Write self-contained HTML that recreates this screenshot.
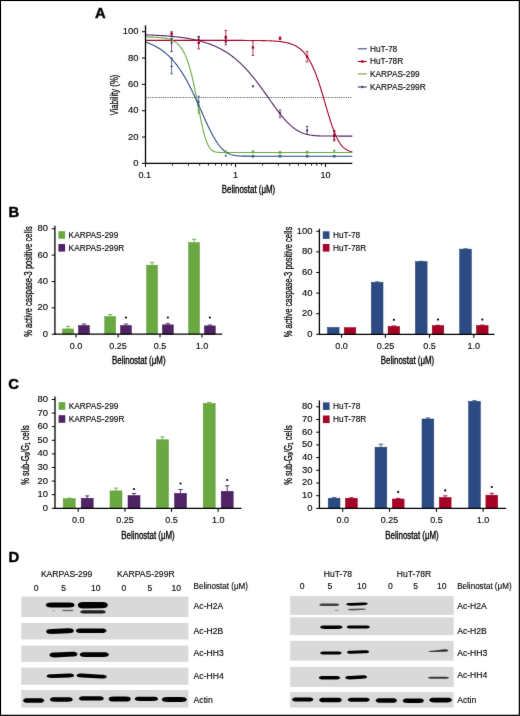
<!DOCTYPE html>
<html><head><meta charset="utf-8"><title>Figure</title>
<style>
html,body{margin:0;padding:0;background:#fff;}
body{width:520px;height:716px;overflow:hidden;position:relative;}
svg{position:absolute;left:0;top:0;display:block;}
text{font-family:"Liberation Sans", sans-serif;}
</style></head>
<body>
<svg width="520" height="716" viewBox="0 0 520 716">
<defs><filter id="bl" x="-10%" y="-60%" width="120%" height="220%"><feGaussianBlur stdDeviation="0.45"/></filter>
<filter id="soft" x="0" y="0" width="520" height="716" filterUnits="userSpaceOnUse" color-interpolation-filters="sRGB"><feConvolveMatrix order="3" kernelMatrix="0.0052 0.0619 0.0052 0.0619 0.7314 0.0619 0.0052 0.0619 0.0052" edgeMode="duplicate" preserveAlpha="true"/></filter></defs>
<g filter="url(#soft)">
<rect x="0" y="0" width="520" height="716" fill="#fff"/>
<text transform="translate(94.90,18.40) scale(0.96,1)" font-size="15.4" text-anchor="start" font-weight="bold" fill="#000" stroke="#000" stroke-width="0.45" >A</text>
<line x1="145.50" y1="97.50" x2="351.50" y2="97.50" stroke="#444" stroke-width="0.9" stroke-dasharray="1.1,1.1"/>
<polyline points="145.50,34.84 146.36,34.87 147.22,34.90 148.09,34.93 148.95,34.96 149.81,35.00 150.67,35.03 151.53,35.07 152.39,35.11 153.25,35.15 154.12,35.19 154.98,35.23 155.84,35.27 156.70,35.32 157.56,35.36 158.43,35.41 159.29,35.46 160.15,35.51 161.01,35.56 161.87,35.62 162.73,35.67 163.59,35.73 164.46,35.79 165.32,35.85 166.18,35.92 167.04,35.98 167.90,36.05 168.76,36.12 169.63,36.20 170.49,36.27 171.35,36.35 172.21,36.43 173.07,36.51 173.94,36.60 174.80,36.69 175.66,36.78 176.52,36.87 177.38,36.97 178.24,37.07 179.11,37.17 179.97,37.28 180.83,37.39 181.69,37.50 182.55,37.62 183.41,37.74 184.28,37.87 185.14,38.00 186.00,38.13 186.86,38.27 187.72,38.41 188.58,38.56 189.44,38.71 190.31,38.87 191.17,39.03 192.03,39.20 192.89,39.37 193.75,39.55 194.62,39.73 195.48,39.92 196.34,40.12 197.20,40.32 198.06,40.53 198.92,40.74 199.78,40.96 200.65,41.19 201.51,41.42 202.37,41.67 203.23,41.92 204.09,42.17 204.96,42.44 205.82,42.71 206.68,42.99 207.54,43.28 208.40,43.58 209.26,43.89 210.12,44.21 210.99,44.54 211.85,44.87 212.71,45.22 213.57,45.58 214.43,45.94 215.30,46.32 216.16,46.71 217.02,47.11 217.88,47.52 218.74,47.95 219.60,48.38 220.47,48.83 221.33,49.29 222.19,49.77 223.05,50.25 223.91,50.75 224.77,51.27 225.63,51.80 226.50,52.34 227.36,52.89 228.22,53.47 229.08,54.05 229.94,54.65 230.81,55.27 231.67,55.90 232.53,56.55 233.39,57.22 234.25,57.90 235.11,58.60 235.97,59.31 236.84,60.05 237.70,60.79 238.56,61.56 239.42,62.34 240.28,63.14 241.15,63.96 242.01,64.80 242.87,65.65 243.73,66.52 244.59,67.41 245.45,68.32 246.31,69.24 247.18,70.19 248.04,71.14 248.90,72.12 249.76,73.11 250.62,74.12 251.49,75.15 252.35,76.19 253.21,77.25 254.07,78.33 254.93,79.41 255.79,80.52 256.65,81.63 257.52,82.76 258.38,83.91 259.24,85.06 260.10,86.23 260.96,87.40 261.82,88.59 262.69,89.78 263.55,90.99 264.41,92.19 265.27,93.41 266.13,94.63 267.00,95.85 267.86,97.07 268.72,98.30 269.58,99.52 270.44,100.75 271.30,101.97 272.17,103.18 273.03,104.39 273.89,105.59 274.75,106.79 275.61,107.97 276.47,109.14 277.34,110.30 278.20,111.44 279.06,112.56 279.92,113.67 280.78,114.76 281.64,115.83 282.50,116.87 283.37,117.90 284.23,118.90 285.09,119.87 285.95,120.81 286.81,121.73 287.68,122.62 288.54,123.48 289.40,124.31 290.26,125.11 291.12,125.87 291.98,126.61 292.85,127.31 293.71,127.98 294.57,128.61 295.43,129.22 296.29,129.79 297.15,130.33 298.01,130.83 298.88,131.31 299.74,131.75 300.60,132.17 301.46,132.55 302.32,132.91 303.19,133.24 304.05,133.55 304.91,133.83 305.77,134.08 306.63,134.31 307.49,134.53 308.36,134.72 309.22,134.89 310.08,135.04 310.94,135.18 311.80,135.30 312.66,135.41 313.52,135.51 314.39,135.59 315.25,135.67 316.11,135.73 316.97,135.78 317.83,135.83 318.70,135.87 319.56,135.91 320.42,135.94 321.28,135.96 322.14,135.98 323.00,136.00 323.87,136.02 324.73,136.03 325.59,136.04 326.45,136.04 327.31,136.05 328.17,136.06 329.03,136.06 329.90,136.06 330.76,136.07 331.62,136.07 332.48,136.07 333.34,136.07 334.21,136.07 335.07,136.07 335.93,136.07 336.79,136.07 337.65,136.07 338.51,136.07 339.38,136.08 340.24,136.08 341.10,136.08 341.96,136.08 342.82,136.08 343.68,136.08 344.55,136.08 345.41,136.08 346.27,136.08 347.13,136.08 347.99,136.08 348.85,136.08 349.72,136.08 350.58,136.08 351.44,136.08 352.30,136.08" fill="none" stroke="#502364" stroke-width="1.1"/>
<polyline points="145.50,40.39 146.36,40.39 147.22,40.39 148.09,40.39 148.95,40.39 149.81,40.39 150.67,40.39 151.53,40.39 152.39,40.39 153.25,40.39 154.12,40.39 154.98,40.39 155.84,40.39 156.70,40.39 157.56,40.39 158.43,40.39 159.29,40.39 160.15,40.39 161.01,40.39 161.87,40.39 162.73,40.39 163.59,40.39 164.46,40.39 165.32,40.39 166.18,40.39 167.04,40.39 167.90,40.39 168.76,40.39 169.63,40.39 170.49,40.39 171.35,40.39 172.21,40.39 173.07,40.39 173.94,40.39 174.80,40.39 175.66,40.39 176.52,40.39 177.38,40.39 178.24,40.39 179.11,40.39 179.97,40.39 180.83,40.39 181.69,40.39 182.55,40.39 183.41,40.39 184.28,40.39 185.14,40.39 186.00,40.39 186.86,40.39 187.72,40.39 188.58,40.39 189.44,40.39 190.31,40.39 191.17,40.39 192.03,40.39 192.89,40.39 193.75,40.39 194.62,40.39 195.48,40.39 196.34,40.39 197.20,40.39 198.06,40.39 198.92,40.39 199.78,40.39 200.65,40.39 201.51,40.39 202.37,40.39 203.23,40.39 204.09,40.39 204.96,40.39 205.82,40.39 206.68,40.39 207.54,40.39 208.40,40.39 209.26,40.39 210.12,40.39 210.99,40.39 211.85,40.39 212.71,40.39 213.57,40.39 214.43,40.39 215.30,40.39 216.16,40.39 217.02,40.39 217.88,40.39 218.74,40.39 219.60,40.39 220.47,40.40 221.33,40.40 222.19,40.40 223.05,40.40 223.91,40.40 224.77,40.40 225.63,40.40 226.50,40.40 227.36,40.40 228.22,40.40 229.08,40.40 229.94,40.40 230.81,40.40 231.67,40.40 232.53,40.40 233.39,40.40 234.25,40.40 235.11,40.41 235.97,40.41 236.84,40.41 237.70,40.41 238.56,40.41 239.42,40.41 240.28,40.41 241.15,40.42 242.01,40.42 242.87,40.42 243.73,40.42 244.59,40.43 245.45,40.43 246.31,40.43 247.18,40.44 248.04,40.44 248.90,40.44 249.76,40.45 250.62,40.45 251.49,40.46 252.35,40.47 253.21,40.47 254.07,40.48 254.93,40.49 255.79,40.50 256.65,40.51 257.52,40.52 258.38,40.53 259.24,40.54 260.10,40.55 260.96,40.57 261.82,40.58 262.69,40.60 263.55,40.62 264.41,40.64 265.27,40.66 266.13,40.69 267.00,40.72 267.86,40.74 268.72,40.78 269.58,40.81 270.44,40.85 271.30,40.89 272.17,40.93 273.03,40.98 273.89,41.04 274.75,41.09 275.61,41.16 276.47,41.23 277.34,41.30 278.20,41.38 279.06,41.47 279.92,41.57 280.78,41.67 281.64,41.79 282.50,41.91 283.37,42.05 284.23,42.20 285.09,42.36 285.95,42.53 286.81,42.72 287.68,42.93 288.54,43.15 289.40,43.40 290.26,43.66 291.12,43.95 291.98,44.26 292.85,44.60 293.71,44.97 294.57,45.37 295.43,45.81 296.29,46.28 297.15,46.79 298.01,47.34 298.88,47.93 299.74,48.58 300.60,49.27 301.46,50.03 302.32,50.84 303.19,51.71 304.05,52.65 304.91,53.66 305.77,54.75 306.63,55.91 307.49,57.16 308.36,58.49 309.22,59.92 310.08,61.43 310.94,63.05 311.80,64.76 312.66,66.58 313.52,68.50 314.39,70.53 315.25,72.66 316.11,74.89 316.97,77.22 317.83,79.66 318.70,82.18 319.56,84.80 320.42,87.50 321.28,90.27 322.14,93.10 323.00,95.99 323.87,98.91 324.73,101.86 325.59,104.82 326.45,107.78 327.31,110.72 328.17,113.62 329.03,116.46 329.90,119.25 330.76,121.94 331.62,124.55 332.48,127.04 333.34,129.42 334.21,131.68 335.07,133.80 335.93,135.78 336.79,137.63 337.65,139.33 338.51,140.90 339.38,142.32 340.24,143.62 341.10,144.79 341.96,145.84 342.82,146.78 343.68,147.61 344.55,148.35 345.41,148.99 346.27,149.56 347.13,150.06 347.99,150.48 348.85,150.85 349.72,151.17 350.58,151.45 351.44,151.68 352.30,151.88" fill="none" stroke="#a60226" stroke-width="1.1"/>
<polyline points="145.50,37.03 146.36,37.04 147.22,37.05 148.09,37.07 148.95,37.08 149.81,37.10 150.67,37.12 151.53,37.14 152.39,37.17 153.25,37.20 154.12,37.23 154.98,37.26 155.84,37.30 156.70,37.35 157.56,37.40 158.43,37.46 159.29,37.52 160.15,37.59 161.01,37.68 161.87,37.77 162.73,37.87 163.59,37.98 164.46,38.11 165.32,38.26 166.18,38.42 167.04,38.60 167.90,38.81 168.76,39.04 169.63,39.30 170.49,39.59 171.35,39.92 172.21,40.28 173.07,40.69 173.94,41.15 174.80,41.66 175.66,42.23 176.52,42.87 177.38,43.59 178.24,44.38 179.11,45.27 179.97,46.26 180.83,47.35 181.69,48.57 182.55,49.92 183.41,51.41 184.28,53.06 185.14,54.87 186.00,56.86 186.86,59.03 187.72,61.41 188.58,63.99 189.44,66.79 190.31,69.81 191.17,73.05 192.03,76.51 192.89,80.18 193.75,84.04 194.62,88.09 195.48,92.29 196.34,96.62 197.20,101.04 198.06,105.50 198.92,109.96 199.78,114.36 200.65,118.66 201.51,122.80 202.37,126.72 203.23,130.40 204.09,133.79 204.96,136.87 205.82,139.61 206.68,142.02 207.54,144.09 208.40,145.85 209.26,147.32 210.12,148.52 210.99,149.48 211.85,150.24 212.71,150.84 213.57,151.29 214.43,151.63 215.30,151.88 216.16,152.07 217.02,152.20 217.88,152.30 218.74,152.36 219.60,152.41 220.47,152.44 221.33,152.46 222.19,152.48 223.05,152.49 223.91,152.49 224.77,152.50 225.63,152.50 226.50,152.50 227.36,152.50 228.22,152.50 229.08,152.51 229.94,152.51 230.81,152.51 231.67,152.51 232.53,152.51 233.39,152.51 234.25,152.51 235.11,152.51 235.97,152.51 236.84,152.51 237.70,152.51 238.56,152.51 239.42,152.51 240.28,152.51 241.15,152.51 242.01,152.51 242.87,152.51 243.73,152.51 244.59,152.51 245.45,152.51 246.31,152.51 247.18,152.51 248.04,152.51 248.90,152.51 249.76,152.51 250.62,152.51 251.49,152.51 252.35,152.51 253.21,152.51 254.07,152.51 254.93,152.51 255.79,152.51 256.65,152.51 257.52,152.51 258.38,152.51 259.24,152.51 260.10,152.51 260.96,152.51 261.82,152.51 262.69,152.51 263.55,152.51 264.41,152.51 265.27,152.51 266.13,152.51 267.00,152.51 267.86,152.51 268.72,152.51 269.58,152.51 270.44,152.51 271.30,152.51 272.17,152.51 273.03,152.51 273.89,152.51 274.75,152.51 275.61,152.51 276.47,152.51 277.34,152.51 278.20,152.51 279.06,152.51 279.92,152.51 280.78,152.51 281.64,152.51 282.50,152.51 283.37,152.51 284.23,152.51 285.09,152.51 285.95,152.51 286.81,152.51 287.68,152.51 288.54,152.51 289.40,152.51 290.26,152.51 291.12,152.51 291.98,152.51 292.85,152.51 293.71,152.51 294.57,152.51 295.43,152.51 296.29,152.51 297.15,152.51 298.01,152.51 298.88,152.51 299.74,152.51 300.60,152.51 301.46,152.51 302.32,152.51 303.19,152.51 304.05,152.51 304.91,152.51 305.77,152.51 306.63,152.51 307.49,152.51 308.36,152.51 309.22,152.51 310.08,152.51 310.94,152.51 311.80,152.51 312.66,152.51 313.52,152.51 314.39,152.51 315.25,152.51 316.11,152.51 316.97,152.51 317.83,152.51 318.70,152.51 319.56,152.51 320.42,152.51 321.28,152.51 322.14,152.51 323.00,152.51 323.87,152.51 324.73,152.51 325.59,152.51 326.45,152.51 327.31,152.51 328.17,152.51 329.03,152.51 329.90,152.51 330.76,152.51 331.62,152.51 332.48,152.51 333.34,152.51 334.21,152.51 335.07,152.51 335.93,152.51 336.79,152.51 337.65,152.51 338.51,152.51 339.38,152.51 340.24,152.51 341.10,152.51 341.96,152.51 342.82,152.51 343.68,152.51 344.55,152.51 345.41,152.51 346.27,152.51 347.13,152.51 347.99,152.51 348.85,152.51 349.72,152.51 350.58,152.51 351.44,152.51 352.30,152.51" fill="none" stroke="#6aa842" stroke-width="1.1"/>
<polyline points="145.50,42.08 146.36,42.37 147.22,42.68 148.09,42.99 148.95,43.32 149.81,43.66 150.67,44.02 151.53,44.39 152.39,44.78 153.25,45.18 154.12,45.60 154.98,46.04 155.84,46.50 156.70,46.97 157.56,47.46 158.43,47.98 159.29,48.51 160.15,49.07 161.01,49.65 161.87,50.25 162.73,50.87 163.59,51.52 164.46,52.20 165.32,52.90 166.18,53.62 167.04,54.38 167.90,55.16 168.76,55.97 169.63,56.81 170.49,57.68 171.35,58.59 172.21,59.52 173.07,60.49 173.94,61.49 174.80,62.52 175.66,63.59 176.52,64.70 177.38,65.84 178.24,67.02 179.11,68.23 179.97,69.48 180.83,70.77 181.69,72.09 182.55,73.45 183.41,74.85 184.28,76.29 185.14,77.77 186.00,79.28 186.86,80.83 187.72,82.41 188.58,84.03 189.44,85.69 190.31,87.38 191.17,89.10 192.03,90.85 192.89,92.63 193.75,94.44 194.62,96.27 195.48,98.13 196.34,100.01 197.20,101.91 198.06,103.82 198.92,105.74 199.78,107.68 200.65,109.62 201.51,111.56 202.37,113.51 203.23,115.44 204.09,117.37 204.96,119.29 205.82,121.19 206.68,123.07 207.54,124.92 208.40,126.74 209.26,128.53 210.12,130.28 210.99,131.99 211.85,133.65 212.71,135.26 213.57,136.82 214.43,138.32 215.30,139.76 216.16,141.14 217.02,142.45 217.88,143.70 218.74,144.88 219.60,145.99 220.47,147.03 221.33,148.01 222.19,148.91 223.05,149.74 223.91,150.51 224.77,151.21 225.63,151.85 226.50,152.43 227.36,152.94 228.22,153.41 229.08,153.82 229.94,154.18 230.81,154.50 231.67,154.78 232.53,155.02 233.39,155.23 234.25,155.40 235.11,155.55 235.97,155.67 236.84,155.77 237.70,155.86 238.56,155.93 239.42,155.98 240.28,156.03 241.15,156.06 242.01,156.09 242.87,156.11 243.73,156.13 244.59,156.14 245.45,156.15 246.31,156.16 247.18,156.17 248.04,156.17 248.90,156.17 249.76,156.17 250.62,156.18 251.49,156.18 252.35,156.18 253.21,156.18 254.07,156.18 254.93,156.18 255.79,156.18 256.65,156.18 257.52,156.18 258.38,156.18 259.24,156.18 260.10,156.18 260.96,156.18 261.82,156.18 262.69,156.18 263.55,156.18 264.41,156.18 265.27,156.18 266.13,156.18 267.00,156.18 267.86,156.18 268.72,156.18 269.58,156.18 270.44,156.18 271.30,156.18 272.17,156.18 273.03,156.18 273.89,156.18 274.75,156.18 275.61,156.18 276.47,156.18 277.34,156.18 278.20,156.18 279.06,156.18 279.92,156.18 280.78,156.18 281.64,156.18 282.50,156.18 283.37,156.18 284.23,156.18 285.09,156.18 285.95,156.18 286.81,156.18 287.68,156.18 288.54,156.18 289.40,156.18 290.26,156.18 291.12,156.18 291.98,156.18 292.85,156.18 293.71,156.18 294.57,156.18 295.43,156.18 296.29,156.18 297.15,156.18 298.01,156.18 298.88,156.18 299.74,156.18 300.60,156.18 301.46,156.18 302.32,156.18 303.19,156.18 304.05,156.18 304.91,156.18 305.77,156.18 306.63,156.18 307.49,156.18 308.36,156.18 309.22,156.18 310.08,156.18 310.94,156.18 311.80,156.18 312.66,156.18 313.52,156.18 314.39,156.18 315.25,156.18 316.11,156.18 316.97,156.18 317.83,156.18 318.70,156.18 319.56,156.18 320.42,156.18 321.28,156.18 322.14,156.18 323.00,156.18 323.87,156.18 324.73,156.18 325.59,156.18 326.45,156.18 327.31,156.18 328.17,156.18 329.03,156.18 329.90,156.18 330.76,156.18 331.62,156.18 332.48,156.18 333.34,156.18 334.21,156.18 335.07,156.18 335.93,156.18 336.79,156.18 337.65,156.18 338.51,156.18 339.38,156.18 340.24,156.18 341.10,156.18 341.96,156.18 342.82,156.18 343.68,156.18 344.55,156.18 345.41,156.18 346.27,156.18 347.13,156.18 347.99,156.18 348.85,156.18 349.72,156.18 350.58,156.18 351.44,156.18 352.30,156.18" fill="none" stroke="#2d4b83" stroke-width="1.1"/>
<line x1="171.60" y1="58.04" x2="171.60" y2="73.84" stroke="#2d4b83" stroke-width="0.8" />
<line x1="170.30" y1="58.04" x2="172.90" y2="58.04" stroke="#2d4b83" stroke-width="0.8" />
<line x1="170.30" y1="73.84" x2="172.90" y2="73.84" stroke="#2d4b83" stroke-width="0.8" />
<path d="M170.20,67.04 L173.00,67.04 L171.60,64.64Z" fill="#2d4b83"/>
<line x1="198.70" y1="96.23" x2="198.70" y2="105.45" stroke="#2d4b83" stroke-width="0.8" />
<line x1="197.40" y1="96.23" x2="200.00" y2="96.23" stroke="#2d4b83" stroke-width="0.8" />
<line x1="197.40" y1="105.45" x2="200.00" y2="105.45" stroke="#2d4b83" stroke-width="0.8" />
<path d="M197.30,102.60 L200.10,102.60 L198.70,100.20Z" fill="#2d4b83"/>
<path d="M224.39,156.60 L227.19,156.60 L225.79,154.20Z" fill="#2d4b83"/>
<line x1="252.94" y1="155.50" x2="252.94" y2="156.81" stroke="#2d4b83" stroke-width="0.8" />
<line x1="251.64" y1="155.50" x2="254.24" y2="155.50" stroke="#2d4b83" stroke-width="0.8" />
<line x1="251.64" y1="156.81" x2="254.24" y2="156.81" stroke="#2d4b83" stroke-width="0.8" />
<path d="M251.54,157.26 L254.34,157.26 L252.94,154.86Z" fill="#2d4b83"/>
<line x1="280.04" y1="155.50" x2="280.04" y2="156.81" stroke="#2d4b83" stroke-width="0.8" />
<line x1="278.74" y1="155.50" x2="281.34" y2="155.50" stroke="#2d4b83" stroke-width="0.8" />
<line x1="278.74" y1="156.81" x2="281.34" y2="156.81" stroke="#2d4b83" stroke-width="0.8" />
<path d="M278.64,157.26 L281.44,157.26 L280.04,154.86Z" fill="#2d4b83"/>
<line x1="307.13" y1="155.50" x2="307.13" y2="156.81" stroke="#2d4b83" stroke-width="0.8" />
<line x1="305.83" y1="155.50" x2="308.43" y2="155.50" stroke="#2d4b83" stroke-width="0.8" />
<line x1="305.83" y1="156.81" x2="308.43" y2="156.81" stroke="#2d4b83" stroke-width="0.8" />
<path d="M305.73,157.26 L308.53,157.26 L307.13,154.86Z" fill="#2d4b83"/>
<line x1="334.22" y1="155.50" x2="334.22" y2="156.81" stroke="#2d4b83" stroke-width="0.8" />
<line x1="332.92" y1="155.50" x2="335.52" y2="155.50" stroke="#2d4b83" stroke-width="0.8" />
<line x1="332.92" y1="156.81" x2="335.52" y2="156.81" stroke="#2d4b83" stroke-width="0.8" />
<path d="M332.82,157.26 L335.62,157.26 L334.22,154.86Z" fill="#2d4b83"/>
<line x1="171.60" y1="38.29" x2="171.60" y2="40.92" stroke="#6aa842" stroke-width="0.8" />
<line x1="170.30" y1="38.29" x2="172.90" y2="38.29" stroke="#6aa842" stroke-width="0.8" />
<line x1="170.30" y1="40.92" x2="172.90" y2="40.92" stroke="#6aa842" stroke-width="0.8" />
<path d="M170.20,38.50 L173.00,38.50 L171.60,40.90Z" fill="#6aa842"/>
<line x1="198.70" y1="106.77" x2="198.70" y2="113.35" stroke="#6aa842" stroke-width="0.8" />
<line x1="197.40" y1="106.77" x2="200.00" y2="106.77" stroke="#6aa842" stroke-width="0.8" />
<line x1="197.40" y1="113.35" x2="200.00" y2="113.35" stroke="#6aa842" stroke-width="0.8" />
<path d="M197.30,109.62 L200.10,109.62 L198.70,112.02Z" fill="#6aa842"/>
<line x1="225.79" y1="150.89" x2="225.79" y2="152.86" stroke="#6aa842" stroke-width="0.8" />
<line x1="224.49" y1="150.89" x2="227.09" y2="150.89" stroke="#6aa842" stroke-width="0.8" />
<line x1="224.49" y1="152.86" x2="227.09" y2="152.86" stroke="#6aa842" stroke-width="0.8" />
<path d="M224.39,150.84 L227.19,150.84 L225.79,153.24Z" fill="#6aa842"/>
<line x1="252.94" y1="150.89" x2="252.94" y2="152.86" stroke="#6aa842" stroke-width="0.8" />
<line x1="251.64" y1="150.89" x2="254.24" y2="150.89" stroke="#6aa842" stroke-width="0.8" />
<line x1="251.64" y1="152.86" x2="254.24" y2="152.86" stroke="#6aa842" stroke-width="0.8" />
<path d="M251.54,151.11 L254.34,151.11 L252.94,153.51Z" fill="#6aa842"/>
<line x1="280.04" y1="151.55" x2="280.04" y2="153.52" stroke="#6aa842" stroke-width="0.8" />
<line x1="278.74" y1="151.55" x2="281.34" y2="151.55" stroke="#6aa842" stroke-width="0.8" />
<line x1="278.74" y1="153.52" x2="281.34" y2="153.52" stroke="#6aa842" stroke-width="0.8" />
<path d="M278.64,151.76 L281.44,151.76 L280.04,154.16Z" fill="#6aa842"/>
<line x1="307.13" y1="151.28" x2="307.13" y2="153.13" stroke="#6aa842" stroke-width="0.8" />
<line x1="305.83" y1="151.28" x2="308.43" y2="151.28" stroke="#6aa842" stroke-width="0.8" />
<line x1="305.83" y1="153.13" x2="308.43" y2="153.13" stroke="#6aa842" stroke-width="0.8" />
<path d="M305.73,151.37 L308.53,151.37 L307.13,153.77Z" fill="#6aa842"/>
<line x1="334.22" y1="150.23" x2="334.22" y2="152.21" stroke="#6aa842" stroke-width="0.8" />
<line x1="332.92" y1="150.23" x2="335.52" y2="150.23" stroke="#6aa842" stroke-width="0.8" />
<line x1="332.92" y1="152.21" x2="335.52" y2="152.21" stroke="#6aa842" stroke-width="0.8" />
<path d="M332.82,150.45 L335.62,150.45 L334.22,152.85Z" fill="#6aa842"/>
<line x1="171.60" y1="38.29" x2="171.60" y2="51.46" stroke="#502364" stroke-width="0.8" />
<line x1="170.30" y1="38.29" x2="172.90" y2="38.29" stroke="#502364" stroke-width="0.8" />
<line x1="170.30" y1="51.46" x2="172.90" y2="51.46" stroke="#502364" stroke-width="0.8" />
<path d="M171.60,41.39 L172.90,42.89 L171.60,44.39 L170.30,42.89Z" fill="#502364"/>
<line x1="198.70" y1="36.44" x2="198.70" y2="39.60" stroke="#502364" stroke-width="0.8" />
<line x1="197.40" y1="36.44" x2="200.00" y2="36.44" stroke="#502364" stroke-width="0.8" />
<line x1="197.40" y1="39.60" x2="200.00" y2="39.60" stroke="#502364" stroke-width="0.8" />
<path d="M198.70,35.86 L200.00,37.36 L198.70,38.86 L197.40,37.36Z" fill="#502364"/>
<line x1="225.79" y1="38.29" x2="225.79" y2="44.87" stroke="#502364" stroke-width="0.8" />
<line x1="224.49" y1="38.29" x2="227.09" y2="38.29" stroke="#502364" stroke-width="0.8" />
<line x1="224.49" y1="44.87" x2="227.09" y2="44.87" stroke="#502364" stroke-width="0.8" />
<path d="M225.79,39.42 L227.09,40.92 L225.79,42.42 L224.49,40.92Z" fill="#502364"/>
<path d="M252.94,84.86 L254.24,86.36 L252.94,87.86 L251.64,86.36Z" fill="#502364"/>
<line x1="280.04" y1="110.06" x2="280.04" y2="117.31" stroke="#502364" stroke-width="0.8" />
<line x1="278.74" y1="110.06" x2="281.34" y2="110.06" stroke="#502364" stroke-width="0.8" />
<line x1="278.74" y1="117.31" x2="281.34" y2="117.31" stroke="#502364" stroke-width="0.8" />
<path d="M280.04,111.85 L281.34,113.35 L280.04,114.85 L278.74,113.35Z" fill="#502364"/>
<line x1="307.13" y1="126.52" x2="307.13" y2="134.43" stroke="#502364" stroke-width="0.8" />
<line x1="305.83" y1="126.52" x2="308.43" y2="126.52" stroke="#502364" stroke-width="0.8" />
<line x1="305.83" y1="134.43" x2="308.43" y2="134.43" stroke="#502364" stroke-width="0.8" />
<path d="M307.13,128.98 L308.43,130.48 L307.13,131.98 L305.83,130.48Z" fill="#502364"/>
<line x1="334.22" y1="131.79" x2="334.22" y2="139.69" stroke="#502364" stroke-width="0.8" />
<line x1="332.92" y1="131.79" x2="335.52" y2="131.79" stroke="#502364" stroke-width="0.8" />
<line x1="332.92" y1="139.69" x2="335.52" y2="139.69" stroke="#502364" stroke-width="0.8" />
<path d="M334.22,134.24 L335.52,135.74 L334.22,137.24 L332.92,135.74Z" fill="#502364"/>
<line x1="171.60" y1="31.70" x2="171.60" y2="35.65" stroke="#a60226" stroke-width="0.8" />
<line x1="170.30" y1="31.70" x2="172.90" y2="31.70" stroke="#a60226" stroke-width="0.8" />
<line x1="170.30" y1="35.65" x2="172.90" y2="35.65" stroke="#a60226" stroke-width="0.8" />
<rect x="170.40" y="32.48" width="2.40" height="2.40" fill="#a60226"/>
<line x1="198.70" y1="39.60" x2="198.70" y2="48.82" stroke="#a60226" stroke-width="0.8" />
<line x1="197.40" y1="39.60" x2="200.00" y2="39.60" stroke="#a60226" stroke-width="0.8" />
<line x1="197.40" y1="48.82" x2="200.00" y2="48.82" stroke="#a60226" stroke-width="0.8" />
<rect x="197.50" y="41.69" width="2.40" height="2.40" fill="#a60226"/>
<line x1="225.79" y1="30.38" x2="225.79" y2="42.24" stroke="#a60226" stroke-width="0.8" />
<line x1="224.49" y1="30.38" x2="227.09" y2="30.38" stroke="#a60226" stroke-width="0.8" />
<line x1="224.49" y1="42.24" x2="227.09" y2="42.24" stroke="#a60226" stroke-width="0.8" />
<rect x="224.59" y="35.77" width="2.40" height="2.40" fill="#a60226"/>
<line x1="252.94" y1="40.92" x2="252.94" y2="55.41" stroke="#a60226" stroke-width="0.8" />
<line x1="251.64" y1="40.92" x2="254.24" y2="40.92" stroke="#a60226" stroke-width="0.8" />
<line x1="251.64" y1="55.41" x2="254.24" y2="55.41" stroke="#a60226" stroke-width="0.8" />
<rect x="251.74" y="46.30" width="2.40" height="2.40" fill="#a60226"/>
<line x1="280.04" y1="36.97" x2="280.04" y2="39.60" stroke="#a60226" stroke-width="0.8" />
<line x1="278.74" y1="36.97" x2="281.34" y2="36.97" stroke="#a60226" stroke-width="0.8" />
<line x1="278.74" y1="39.60" x2="281.34" y2="39.60" stroke="#a60226" stroke-width="0.8" />
<rect x="278.84" y="37.09" width="2.40" height="2.40" fill="#a60226"/>
<line x1="307.13" y1="51.46" x2="307.13" y2="61.99" stroke="#a60226" stroke-width="0.8" />
<line x1="305.83" y1="51.46" x2="308.43" y2="51.46" stroke="#a60226" stroke-width="0.8" />
<line x1="305.83" y1="61.99" x2="308.43" y2="61.99" stroke="#a60226" stroke-width="0.8" />
<rect x="305.93" y="55.52" width="2.40" height="2.40" fill="#a60226"/>
<line x1="334.22" y1="130.48" x2="334.22" y2="141.01" stroke="#a60226" stroke-width="0.8" />
<line x1="332.92" y1="130.48" x2="335.52" y2="130.48" stroke="#a60226" stroke-width="0.8" />
<line x1="332.92" y1="141.01" x2="335.52" y2="141.01" stroke="#a60226" stroke-width="0.8" />
<rect x="333.02" y="134.54" width="2.40" height="2.40" fill="#a60226"/>
<line x1="145.50" y1="25.30" x2="145.50" y2="164.00" stroke="#000" stroke-width="1.3" />
<line x1="144.90" y1="163.40" x2="352.30" y2="163.40" stroke="#000" stroke-width="1.3" />
<line x1="142.00" y1="163.40" x2="145.50" y2="163.40" stroke="#000" stroke-width="1.0" />
<text transform="translate(138.50,166.10) scale(1.05,1)" font-size="9.0" text-anchor="end" font-weight="normal" fill="#000" stroke="#000" stroke-width="0.12" >0</text>
<line x1="142.00" y1="137.06" x2="145.50" y2="137.06" stroke="#000" stroke-width="1.0" />
<text transform="translate(138.50,139.76) scale(1.05,1)" font-size="9.0" text-anchor="end" font-weight="normal" fill="#000" stroke="#000" stroke-width="0.12" >20</text>
<line x1="142.00" y1="110.72" x2="145.50" y2="110.72" stroke="#000" stroke-width="1.0" />
<text transform="translate(138.50,113.42) scale(1.05,1)" font-size="9.0" text-anchor="end" font-weight="normal" fill="#000" stroke="#000" stroke-width="0.12" >40</text>
<line x1="142.00" y1="84.38" x2="145.50" y2="84.38" stroke="#000" stroke-width="1.0" />
<text transform="translate(138.50,87.08) scale(1.05,1)" font-size="9.0" text-anchor="end" font-weight="normal" fill="#000" stroke="#000" stroke-width="0.12" >60</text>
<line x1="142.00" y1="58.04" x2="145.50" y2="58.04" stroke="#000" stroke-width="1.0" />
<text transform="translate(138.50,60.74) scale(1.05,1)" font-size="9.0" text-anchor="end" font-weight="normal" fill="#000" stroke="#000" stroke-width="0.12" >80</text>
<line x1="142.00" y1="31.70" x2="145.50" y2="31.70" stroke="#000" stroke-width="1.0" />
<text transform="translate(138.50,34.40) scale(1.05,1)" font-size="9.0" text-anchor="end" font-weight="normal" fill="#000" stroke="#000" stroke-width="0.12" >100</text>
<line x1="145.50" y1="163.40" x2="145.50" y2="167.00" stroke="#000" stroke-width="1.0" />
<line x1="172.59" y1="163.40" x2="172.59" y2="165.60" stroke="#000" stroke-width="0.9" />
<line x1="188.44" y1="163.40" x2="188.44" y2="165.60" stroke="#000" stroke-width="0.9" />
<line x1="199.69" y1="163.40" x2="199.69" y2="165.60" stroke="#000" stroke-width="0.9" />
<line x1="208.41" y1="163.40" x2="208.41" y2="165.60" stroke="#000" stroke-width="0.9" />
<line x1="215.53" y1="163.40" x2="215.53" y2="165.60" stroke="#000" stroke-width="0.9" />
<line x1="221.56" y1="163.40" x2="221.56" y2="165.60" stroke="#000" stroke-width="0.9" />
<line x1="226.78" y1="163.40" x2="226.78" y2="165.60" stroke="#000" stroke-width="0.9" />
<line x1="231.38" y1="163.40" x2="231.38" y2="165.60" stroke="#000" stroke-width="0.9" />
<line x1="235.50" y1="163.40" x2="235.50" y2="167.00" stroke="#000" stroke-width="1.0" />
<line x1="262.59" y1="163.40" x2="262.59" y2="165.60" stroke="#000" stroke-width="0.9" />
<line x1="278.44" y1="163.40" x2="278.44" y2="165.60" stroke="#000" stroke-width="0.9" />
<line x1="289.69" y1="163.40" x2="289.69" y2="165.60" stroke="#000" stroke-width="0.9" />
<line x1="298.41" y1="163.40" x2="298.41" y2="165.60" stroke="#000" stroke-width="0.9" />
<line x1="305.53" y1="163.40" x2="305.53" y2="165.60" stroke="#000" stroke-width="0.9" />
<line x1="311.56" y1="163.40" x2="311.56" y2="165.60" stroke="#000" stroke-width="0.9" />
<line x1="316.78" y1="163.40" x2="316.78" y2="165.60" stroke="#000" stroke-width="0.9" />
<line x1="321.38" y1="163.40" x2="321.38" y2="165.60" stroke="#000" stroke-width="0.9" />
<line x1="325.50" y1="163.40" x2="325.50" y2="167.00" stroke="#000" stroke-width="1.0" />
<text transform="translate(144.70,178.20)" font-size="9.0" text-anchor="middle" font-weight="normal" fill="#000" stroke="#000" stroke-width="0.12" >0.1</text>
<text transform="translate(235.50,178.20)" font-size="9.0" text-anchor="middle" font-weight="normal" fill="#000" stroke="#000" stroke-width="0.12" >1</text>
<text transform="translate(325.50,178.20)" font-size="9.0" text-anchor="middle" font-weight="normal" fill="#000" stroke="#000" stroke-width="0.12" >10</text>
<text transform="translate(248.50,192.80) scale(0.735,1)" font-size="10.8" text-anchor="middle" font-weight="normal" fill="#000" stroke="#000" stroke-width="0.35" >Belinostat (&#956;M)</text>
<text transform="translate(117.60,95.00) rotate(-90) scale(0.72,1)" font-size="10.8" text-anchor="middle" font-weight="normal" fill="#000" stroke="#000" stroke-width="0.25" >Viability (%)</text>
<line x1="357.80" y1="48.80" x2="366.80" y2="48.80" stroke="#2d4b83" stroke-width="1.1" />
<text transform="translate(370.00,51.70)" font-size="8.3" text-anchor="start" font-weight="normal" fill="#000" stroke="#000" stroke-width="0.12" >HuT-78</text>
<line x1="357.80" y1="61.50" x2="366.80" y2="61.50" stroke="#a60226" stroke-width="1.1" />
<rect x="361.20" y="60.30" width="2.40" height="2.40" fill="#a60226"/>
<text transform="translate(370.00,64.40)" font-size="8.3" text-anchor="start" font-weight="normal" fill="#000" stroke="#000" stroke-width="0.12" >HuT-78R</text>
<line x1="357.80" y1="73.90" x2="366.80" y2="73.90" stroke="#6aa842" stroke-width="1.1" />
<text transform="translate(370.00,76.80)" font-size="8.3" text-anchor="start" font-weight="normal" fill="#000" stroke="#000" stroke-width="0.12" >KARPAS-299</text>
<line x1="357.80" y1="87.00" x2="366.80" y2="87.00" stroke="#502364" stroke-width="1.1" />
<path d="M362.3,85.50 L363.6,87.00 L362.3,88.50 L361.0,87.00Z" fill="#502364"/>
<text transform="translate(370.00,89.90)" font-size="8.3" text-anchor="start" font-weight="normal" fill="#000" stroke="#000" stroke-width="0.12" >KARPAS-299R</text>
<text transform="translate(8.60,217.30) scale(0.96,1)" font-size="15.4" text-anchor="start" font-weight="bold" fill="#000" stroke="#000" stroke-width="0.45" >B</text>
<line x1="68.15" y1="326.29" x2="68.15" y2="328.93" stroke="#6aa842" stroke-width="0.9" />
<line x1="65.95" y1="326.29" x2="70.35" y2="326.29" stroke="#6aa842" stroke-width="0.9" />
<rect x="62.70" y="328.93" width="10.90" height="5.27" fill="#6aa842" stroke="#5c9a36" stroke-width="0.5"/>
<line x1="83.95" y1="324.06" x2="83.95" y2="325.50" stroke="#502364" stroke-width="0.9" />
<line x1="81.75" y1="324.06" x2="86.15" y2="324.06" stroke="#502364" stroke-width="0.9" />
<rect x="78.50" y="325.50" width="10.90" height="8.70" fill="#502364" stroke="#42185a" stroke-width="0.5"/>
<line x1="110.15" y1="314.57" x2="110.15" y2="316.55" stroke="#6aa842" stroke-width="0.9" />
<line x1="107.95" y1="314.57" x2="112.35" y2="314.57" stroke="#6aa842" stroke-width="0.9" />
<rect x="104.70" y="316.55" width="10.90" height="17.65" fill="#6aa842" stroke="#5c9a36" stroke-width="0.5"/>
<line x1="125.95" y1="324.06" x2="125.95" y2="325.50" stroke="#502364" stroke-width="0.9" />
<line x1="123.75" y1="324.06" x2="128.15" y2="324.06" stroke="#502364" stroke-width="0.9" />
<rect x="120.50" y="325.50" width="10.90" height="8.70" fill="#502364" stroke="#42185a" stroke-width="0.5"/>
<circle cx="125.95" cy="317.50" r="1.1" fill="#000"/>
<line x1="152.05" y1="262.66" x2="152.05" y2="265.16" stroke="#6aa842" stroke-width="0.9" />
<line x1="149.85" y1="262.66" x2="154.25" y2="262.66" stroke="#6aa842" stroke-width="0.9" />
<rect x="146.60" y="265.16" width="10.90" height="69.04" fill="#6aa842" stroke="#5c9a36" stroke-width="0.5"/>
<line x1="167.85" y1="323.66" x2="167.85" y2="324.85" stroke="#502364" stroke-width="0.9" />
<line x1="165.65" y1="323.66" x2="170.05" y2="323.66" stroke="#502364" stroke-width="0.9" />
<rect x="162.40" y="324.85" width="10.90" height="9.35" fill="#502364" stroke="#42185a" stroke-width="0.5"/>
<circle cx="167.85" cy="317.50" r="1.1" fill="#000"/>
<line x1="194.05" y1="239.34" x2="194.05" y2="242.63" stroke="#6aa842" stroke-width="0.9" />
<line x1="191.85" y1="239.34" x2="196.25" y2="239.34" stroke="#6aa842" stroke-width="0.9" />
<rect x="188.60" y="242.63" width="10.90" height="91.57" fill="#6aa842" stroke="#5c9a36" stroke-width="0.5"/>
<line x1="209.85" y1="324.98" x2="209.85" y2="325.90" stroke="#502364" stroke-width="0.9" />
<line x1="207.65" y1="324.98" x2="212.05" y2="324.98" stroke="#502364" stroke-width="0.9" />
<rect x="204.40" y="325.90" width="10.90" height="8.30" fill="#502364" stroke="#42185a" stroke-width="0.5"/>
<circle cx="209.85" cy="317.50" r="1.1" fill="#000"/>
<line x1="54.90" y1="225.80" x2="54.90" y2="334.80" stroke="#000" stroke-width="1.3" />
<line x1="54.30" y1="334.20" x2="222.20" y2="334.20" stroke="#000" stroke-width="1.3" />
<line x1="51.70" y1="334.20" x2="54.90" y2="334.20" stroke="#000" stroke-width="1.0" />
<text transform="translate(48.00,336.60) scale(1.05,1)" font-size="9.0" text-anchor="end" font-weight="normal" fill="#000" stroke="#000" stroke-width="0.12" >0</text>
<line x1="51.70" y1="307.85" x2="54.90" y2="307.85" stroke="#000" stroke-width="1.0" />
<text transform="translate(48.00,310.25) scale(1.05,1)" font-size="9.0" text-anchor="end" font-weight="normal" fill="#000" stroke="#000" stroke-width="0.12" >20</text>
<line x1="51.70" y1="281.50" x2="54.90" y2="281.50" stroke="#000" stroke-width="1.0" />
<text transform="translate(48.00,283.90) scale(1.05,1)" font-size="9.0" text-anchor="end" font-weight="normal" fill="#000" stroke="#000" stroke-width="0.12" >40</text>
<line x1="51.70" y1="255.15" x2="54.90" y2="255.15" stroke="#000" stroke-width="1.0" />
<text transform="translate(48.00,257.55) scale(1.05,1)" font-size="9.0" text-anchor="end" font-weight="normal" fill="#000" stroke="#000" stroke-width="0.12" >60</text>
<line x1="51.70" y1="228.80" x2="54.90" y2="228.80" stroke="#000" stroke-width="1.0" />
<text transform="translate(48.00,231.20) scale(1.05,1)" font-size="9.0" text-anchor="end" font-weight="normal" fill="#000" stroke="#000" stroke-width="0.12" >80</text>
<line x1="76.10" y1="334.20" x2="76.10" y2="337.60" stroke="#000" stroke-width="1.1" />
<text transform="translate(76.10,349.40)" font-size="9.0" text-anchor="middle" font-weight="normal" fill="#000" stroke="#000" stroke-width="0.12" >0.0</text>
<line x1="118.10" y1="334.20" x2="118.10" y2="337.60" stroke="#000" stroke-width="1.1" />
<text transform="translate(118.10,349.40)" font-size="9.0" text-anchor="middle" font-weight="normal" fill="#000" stroke="#000" stroke-width="0.12" >0.25</text>
<line x1="160.00" y1="334.20" x2="160.00" y2="337.60" stroke="#000" stroke-width="1.1" />
<text transform="translate(160.00,349.40)" font-size="9.0" text-anchor="middle" font-weight="normal" fill="#000" stroke="#000" stroke-width="0.12" >0.5</text>
<line x1="202.00" y1="334.20" x2="202.00" y2="337.60" stroke="#000" stroke-width="1.1" />
<text transform="translate(202.00,349.40)" font-size="9.0" text-anchor="middle" font-weight="normal" fill="#000" stroke="#000" stroke-width="0.12" >1.0</text>
<text transform="translate(138.80,364.00) scale(0.735,1)" font-size="10.8" text-anchor="middle" font-weight="normal" fill="#000" stroke="#000" stroke-width="0.35" >Belinostat (&#956;M)</text>
<rect x="58.40" y="231.20" width="6.70" height="7.60" fill="#6aa842"/>
<text transform="translate(68.60,238.10)" font-size="8.3" text-anchor="start" font-weight="normal" fill="#000" stroke="#000" stroke-width="0.12" >KARPAS-299</text>
<rect x="58.40" y="244.00" width="6.70" height="7.60" fill="#502364"/>
<text transform="translate(68.60,250.90)" font-size="8.3" text-anchor="start" font-weight="normal" fill="#000" stroke="#000" stroke-width="0.12" >KARPAS-299R</text>
<text transform="translate(31.80,281.50) rotate(-90) scale(0.70,1)" font-size="10.8" text-anchor="middle" stroke="#000" stroke-width="0.3">% active caspase-3 positive cells</text>
<rect x="327.40" y="327.40" width="11.70" height="6.90" fill="#2d4b83" stroke="#223d72" stroke-width="0.5"/>
<rect x="344.20" y="327.61" width="11.60" height="6.69" fill="#a60226" stroke="#8e001c" stroke-width="0.5"/>
<line x1="377.15" y1="281.87" x2="377.15" y2="282.29" stroke="#2d4b83" stroke-width="0.9" />
<line x1="374.95" y1="281.87" x2="379.35" y2="281.87" stroke="#2d4b83" stroke-width="0.9" />
<rect x="371.30" y="282.29" width="11.70" height="52.01" fill="#2d4b83" stroke="#223d72" stroke-width="0.5"/>
<line x1="393.90" y1="325.96" x2="393.90" y2="326.37" stroke="#a60226" stroke-width="0.9" />
<line x1="391.70" y1="325.96" x2="396.10" y2="325.96" stroke="#a60226" stroke-width="0.9" />
<rect x="388.10" y="326.37" width="11.60" height="7.93" fill="#a60226" stroke="#8e001c" stroke-width="0.5"/>
<circle cx="393.90" cy="319.80" r="1.1" fill="#000"/>
<line x1="421.25" y1="261.27" x2="421.25" y2="261.58" stroke="#2d4b83" stroke-width="0.9" />
<line x1="419.05" y1="261.27" x2="423.45" y2="261.27" stroke="#2d4b83" stroke-width="0.9" />
<rect x="415.40" y="261.58" width="11.70" height="72.72" fill="#2d4b83" stroke="#223d72" stroke-width="0.5"/>
<line x1="438.00" y1="325.24" x2="438.00" y2="325.65" stroke="#a60226" stroke-width="0.9" />
<line x1="435.80" y1="325.24" x2="440.20" y2="325.24" stroke="#a60226" stroke-width="0.9" />
<rect x="432.20" y="325.65" width="11.60" height="8.65" fill="#a60226" stroke="#8e001c" stroke-width="0.5"/>
<circle cx="438.00" cy="319.60" r="1.1" fill="#000"/>
<line x1="465.55" y1="248.81" x2="465.55" y2="249.12" stroke="#2d4b83" stroke-width="0.9" />
<line x1="463.35" y1="248.81" x2="467.75" y2="248.81" stroke="#2d4b83" stroke-width="0.9" />
<rect x="459.70" y="249.12" width="11.70" height="85.18" fill="#2d4b83" stroke="#223d72" stroke-width="0.5"/>
<line x1="482.30" y1="325.03" x2="482.30" y2="325.44" stroke="#a60226" stroke-width="0.9" />
<line x1="480.10" y1="325.03" x2="484.50" y2="325.03" stroke="#a60226" stroke-width="0.9" />
<rect x="476.50" y="325.44" width="11.60" height="8.86" fill="#a60226" stroke="#8e001c" stroke-width="0.5"/>
<circle cx="482.30" cy="319.60" r="1.1" fill="#000"/>
<line x1="319.40" y1="228.80" x2="319.40" y2="334.90" stroke="#000" stroke-width="1.3" />
<line x1="318.80" y1="334.30" x2="494.60" y2="334.30" stroke="#000" stroke-width="1.3" />
<line x1="316.20" y1="334.30" x2="319.40" y2="334.30" stroke="#000" stroke-width="1.0" />
<text transform="translate(312.60,336.70) scale(1.05,1)" font-size="9.0" text-anchor="end" font-weight="normal" fill="#000" stroke="#000" stroke-width="0.12" >0</text>
<line x1="316.20" y1="313.70" x2="319.40" y2="313.70" stroke="#000" stroke-width="1.0" />
<text transform="translate(312.60,316.10) scale(1.05,1)" font-size="9.0" text-anchor="end" font-weight="normal" fill="#000" stroke="#000" stroke-width="0.12" >20</text>
<line x1="316.20" y1="293.10" x2="319.40" y2="293.10" stroke="#000" stroke-width="1.0" />
<text transform="translate(312.60,295.50) scale(1.05,1)" font-size="9.0" text-anchor="end" font-weight="normal" fill="#000" stroke="#000" stroke-width="0.12" >40</text>
<line x1="316.20" y1="272.50" x2="319.40" y2="272.50" stroke="#000" stroke-width="1.0" />
<text transform="translate(312.60,274.90) scale(1.05,1)" font-size="9.0" text-anchor="end" font-weight="normal" fill="#000" stroke="#000" stroke-width="0.12" >60</text>
<line x1="316.20" y1="251.90" x2="319.40" y2="251.90" stroke="#000" stroke-width="1.0" />
<text transform="translate(312.60,254.30) scale(1.05,1)" font-size="9.0" text-anchor="end" font-weight="normal" fill="#000" stroke="#000" stroke-width="0.12" >80</text>
<line x1="316.20" y1="231.30" x2="319.40" y2="231.30" stroke="#000" stroke-width="1.0" />
<text transform="translate(312.60,233.70) scale(1.05,1)" font-size="9.0" text-anchor="end" font-weight="normal" fill="#000" stroke="#000" stroke-width="0.12" >100</text>
<line x1="341.50" y1="334.30" x2="341.50" y2="337.70" stroke="#000" stroke-width="1.1" />
<text transform="translate(341.50,348.50)" font-size="9.0" text-anchor="middle" font-weight="normal" fill="#000" stroke="#000" stroke-width="0.12" >0.0</text>
<line x1="385.40" y1="334.30" x2="385.40" y2="337.70" stroke="#000" stroke-width="1.1" />
<text transform="translate(385.40,348.50)" font-size="9.0" text-anchor="middle" font-weight="normal" fill="#000" stroke="#000" stroke-width="0.12" >0.25</text>
<line x1="429.50" y1="334.30" x2="429.50" y2="337.70" stroke="#000" stroke-width="1.1" />
<text transform="translate(429.50,348.50)" font-size="9.0" text-anchor="middle" font-weight="normal" fill="#000" stroke="#000" stroke-width="0.12" >0.5</text>
<line x1="473.80" y1="334.30" x2="473.80" y2="337.70" stroke="#000" stroke-width="1.1" />
<text transform="translate(473.80,348.50)" font-size="9.0" text-anchor="middle" font-weight="normal" fill="#000" stroke="#000" stroke-width="0.12" >1.0</text>
<text transform="translate(407.50,364.20) scale(0.735,1)" font-size="10.8" text-anchor="middle" font-weight="normal" fill="#000" stroke="#000" stroke-width="0.35" >Belinostat (&#956;M)</text>
<rect x="322.80" y="231.30" width="6.70" height="7.60" fill="#2d4b83"/>
<text transform="translate(333.00,238.20)" font-size="8.3" text-anchor="start" font-weight="normal" fill="#000" stroke="#000" stroke-width="0.12" >HuT-78</text>
<rect x="322.80" y="244.00" width="6.70" height="7.60" fill="#a60226"/>
<text transform="translate(333.00,250.90)" font-size="8.3" text-anchor="start" font-weight="normal" fill="#000" stroke="#000" stroke-width="0.12" >HuT-78R</text>
<text transform="translate(291.50,282.00) rotate(-90) scale(0.70,1)" font-size="10.8" text-anchor="middle" stroke="#000" stroke-width="0.3">% active caspase-3 positive cells</text>
<text transform="translate(8.20,388.60) scale(0.96,1)" font-size="15.4" text-anchor="start" font-weight="bold" fill="#000" stroke="#000" stroke-width="0.45" >C</text>
<line x1="69.20" y1="498.10" x2="69.20" y2="498.64" stroke="#6aa842" stroke-width="0.9" />
<line x1="67.00" y1="498.10" x2="71.40" y2="498.10" stroke="#6aa842" stroke-width="0.9" />
<rect x="63.20" y="498.64" width="12.00" height="9.66" fill="#6aa842" stroke="#5c9a36" stroke-width="0.5"/>
<line x1="87.20" y1="495.92" x2="87.20" y2="498.24" stroke="#502364" stroke-width="0.9" />
<line x1="85.00" y1="495.92" x2="89.40" y2="495.92" stroke="#502364" stroke-width="0.9" />
<rect x="81.20" y="498.24" width="12.00" height="10.06" fill="#502364" stroke="#42185a" stroke-width="0.5"/>
<line x1="116.00" y1="488.17" x2="116.00" y2="490.89" stroke="#6aa842" stroke-width="0.9" />
<line x1="113.80" y1="488.17" x2="118.20" y2="488.17" stroke="#6aa842" stroke-width="0.9" />
<rect x="110.00" y="490.89" width="12.00" height="17.41" fill="#6aa842" stroke="#5c9a36" stroke-width="0.5"/>
<line x1="134.00" y1="493.48" x2="134.00" y2="495.52" stroke="#502364" stroke-width="0.9" />
<line x1="131.80" y1="493.48" x2="136.20" y2="493.48" stroke="#502364" stroke-width="0.9" />
<rect x="128.00" y="495.52" width="12.00" height="12.78" fill="#502364" stroke="#42185a" stroke-width="0.5"/>
<circle cx="134.00" cy="489.00" r="1.1" fill="#000"/>
<line x1="162.50" y1="436.90" x2="162.50" y2="439.76" stroke="#6aa842" stroke-width="0.9" />
<line x1="160.30" y1="436.90" x2="164.70" y2="436.90" stroke="#6aa842" stroke-width="0.9" />
<rect x="156.50" y="439.76" width="12.00" height="68.54" fill="#6aa842" stroke="#5c9a36" stroke-width="0.5"/>
<line x1="180.50" y1="489.53" x2="180.50" y2="493.34" stroke="#502364" stroke-width="0.9" />
<line x1="178.30" y1="489.53" x2="182.70" y2="489.53" stroke="#502364" stroke-width="0.9" />
<rect x="174.50" y="493.34" width="12.00" height="14.96" fill="#502364" stroke="#42185a" stroke-width="0.5"/>
<circle cx="180.50" cy="483.50" r="1.1" fill="#000"/>
<line x1="209.20" y1="402.36" x2="209.20" y2="403.44" stroke="#6aa842" stroke-width="0.9" />
<line x1="207.00" y1="402.36" x2="211.40" y2="402.36" stroke="#6aa842" stroke-width="0.9" />
<rect x="203.20" y="403.44" width="12.00" height="104.86" fill="#6aa842" stroke="#5c9a36" stroke-width="0.5"/>
<line x1="227.20" y1="485.72" x2="227.20" y2="491.30" stroke="#502364" stroke-width="0.9" />
<line x1="225.00" y1="485.72" x2="229.40" y2="485.72" stroke="#502364" stroke-width="0.9" />
<rect x="221.20" y="491.30" width="12.00" height="17.00" fill="#502364" stroke="#42185a" stroke-width="0.5"/>
<circle cx="227.20" cy="480.00" r="1.1" fill="#000"/>
<line x1="55.00" y1="396.50" x2="55.00" y2="508.90" stroke="#000" stroke-width="1.3" />
<line x1="54.40" y1="508.30" x2="241.50" y2="508.30" stroke="#000" stroke-width="1.3" />
<line x1="51.80" y1="508.30" x2="55.00" y2="508.30" stroke="#000" stroke-width="1.0" />
<text transform="translate(48.00,510.70) scale(1.05,1)" font-size="9.0" text-anchor="end" font-weight="normal" fill="#000" stroke="#000" stroke-width="0.12" >0</text>
<line x1="51.80" y1="494.70" x2="55.00" y2="494.70" stroke="#000" stroke-width="1.0" />
<text transform="translate(48.00,497.10) scale(1.05,1)" font-size="9.0" text-anchor="end" font-weight="normal" fill="#000" stroke="#000" stroke-width="0.12" >10</text>
<line x1="51.80" y1="481.10" x2="55.00" y2="481.10" stroke="#000" stroke-width="1.0" />
<text transform="translate(48.00,483.50) scale(1.05,1)" font-size="9.0" text-anchor="end" font-weight="normal" fill="#000" stroke="#000" stroke-width="0.12" >20</text>
<line x1="51.80" y1="467.50" x2="55.00" y2="467.50" stroke="#000" stroke-width="1.0" />
<text transform="translate(48.00,469.90) scale(1.05,1)" font-size="9.0" text-anchor="end" font-weight="normal" fill="#000" stroke="#000" stroke-width="0.12" >30</text>
<line x1="51.80" y1="453.90" x2="55.00" y2="453.90" stroke="#000" stroke-width="1.0" />
<text transform="translate(48.00,456.30) scale(1.05,1)" font-size="9.0" text-anchor="end" font-weight="normal" fill="#000" stroke="#000" stroke-width="0.12" >40</text>
<line x1="51.80" y1="440.30" x2="55.00" y2="440.30" stroke="#000" stroke-width="1.0" />
<text transform="translate(48.00,442.70) scale(1.05,1)" font-size="9.0" text-anchor="end" font-weight="normal" fill="#000" stroke="#000" stroke-width="0.12" >50</text>
<line x1="51.80" y1="426.70" x2="55.00" y2="426.70" stroke="#000" stroke-width="1.0" />
<text transform="translate(48.00,429.10) scale(1.05,1)" font-size="9.0" text-anchor="end" font-weight="normal" fill="#000" stroke="#000" stroke-width="0.12" >60</text>
<line x1="51.80" y1="413.10" x2="55.00" y2="413.10" stroke="#000" stroke-width="1.0" />
<text transform="translate(48.00,415.50) scale(1.05,1)" font-size="9.0" text-anchor="end" font-weight="normal" fill="#000" stroke="#000" stroke-width="0.12" >70</text>
<line x1="51.80" y1="399.50" x2="55.00" y2="399.50" stroke="#000" stroke-width="1.0" />
<text transform="translate(48.00,401.90) scale(1.05,1)" font-size="9.0" text-anchor="end" font-weight="normal" fill="#000" stroke="#000" stroke-width="0.12" >80</text>
<line x1="78.20" y1="508.30" x2="78.20" y2="511.70" stroke="#000" stroke-width="1.1" />
<text transform="translate(78.20,522.80)" font-size="9.0" text-anchor="middle" font-weight="normal" fill="#000" stroke="#000" stroke-width="0.12" >0.0</text>
<line x1="125.00" y1="508.30" x2="125.00" y2="511.70" stroke="#000" stroke-width="1.1" />
<text transform="translate(125.00,522.80)" font-size="9.0" text-anchor="middle" font-weight="normal" fill="#000" stroke="#000" stroke-width="0.12" >0.25</text>
<line x1="171.50" y1="508.30" x2="171.50" y2="511.70" stroke="#000" stroke-width="1.1" />
<text transform="translate(171.50,522.80)" font-size="9.0" text-anchor="middle" font-weight="normal" fill="#000" stroke="#000" stroke-width="0.12" >0.5</text>
<line x1="218.20" y1="508.30" x2="218.20" y2="511.70" stroke="#000" stroke-width="1.1" />
<text transform="translate(218.20,522.80)" font-size="9.0" text-anchor="middle" font-weight="normal" fill="#000" stroke="#000" stroke-width="0.12" >1.0</text>
<text transform="translate(148.00,539.20) scale(0.735,1)" font-size="10.8" text-anchor="middle" font-weight="normal" fill="#000" stroke="#000" stroke-width="0.35" >Belinostat (&#956;M)</text>
<rect x="58.60" y="402.20" width="6.70" height="7.60" fill="#6aa842"/>
<text transform="translate(68.80,409.10)" font-size="8.3" text-anchor="start" font-weight="normal" fill="#000" stroke="#000" stroke-width="0.12" >KARPAS-299</text>
<rect x="58.60" y="415.20" width="6.70" height="7.60" fill="#502364"/>
<text transform="translate(68.80,422.10)" font-size="8.3" text-anchor="start" font-weight="normal" fill="#000" stroke="#000" stroke-width="0.12" >KARPAS-299R</text>
<text transform="translate(28.50,455.00) rotate(-90) scale(0.70,1)" font-size="10.8" text-anchor="middle" stroke="#000" stroke-width="0.3">% sub-G<tspan font-size="6.6" dy="1.8">0</tspan><tspan dy="-1.8">/G</tspan><tspan font-size="6.6" dy="1.8">1</tspan><tspan dy="-1.8"> cells</tspan></text>
<line x1="334.10" y1="497.60" x2="334.10" y2="498.24" stroke="#2d4b83" stroke-width="0.9" />
<line x1="331.90" y1="497.60" x2="336.30" y2="497.60" stroke="#2d4b83" stroke-width="0.9" />
<rect x="328.20" y="498.24" width="11.80" height="10.16" fill="#2d4b83" stroke="#223d72" stroke-width="0.5"/>
<line x1="351.40" y1="497.73" x2="351.40" y2="498.24" stroke="#a60226" stroke-width="0.9" />
<line x1="349.20" y1="497.73" x2="353.60" y2="497.73" stroke="#a60226" stroke-width="0.9" />
<rect x="345.50" y="498.24" width="11.80" height="10.16" fill="#a60226" stroke="#8e001c" stroke-width="0.5"/>
<line x1="380.90" y1="444.26" x2="380.90" y2="447.19" stroke="#2d4b83" stroke-width="0.9" />
<line x1="378.70" y1="444.26" x2="383.10" y2="444.26" stroke="#2d4b83" stroke-width="0.9" />
<rect x="375.00" y="447.19" width="11.80" height="61.21" fill="#2d4b83" stroke="#223d72" stroke-width="0.5"/>
<line x1="398.20" y1="498.37" x2="398.20" y2="499.00" stroke="#a60226" stroke-width="0.9" />
<line x1="396.00" y1="498.37" x2="400.40" y2="498.37" stroke="#a60226" stroke-width="0.9" />
<rect x="392.30" y="499.00" width="11.80" height="9.40" fill="#a60226" stroke="#8e001c" stroke-width="0.5"/>
<circle cx="398.20" cy="491.90" r="1.1" fill="#000"/>
<line x1="427.90" y1="417.98" x2="427.90" y2="418.99" stroke="#2d4b83" stroke-width="0.9" />
<line x1="425.70" y1="417.98" x2="430.10" y2="417.98" stroke="#2d4b83" stroke-width="0.9" />
<rect x="422.00" y="418.99" width="11.80" height="89.41" fill="#2d4b83" stroke="#223d72" stroke-width="0.5"/>
<line x1="445.20" y1="495.83" x2="445.20" y2="497.48" stroke="#a60226" stroke-width="0.9" />
<line x1="443.00" y1="495.83" x2="447.40" y2="495.83" stroke="#a60226" stroke-width="0.9" />
<rect x="439.30" y="497.48" width="11.80" height="10.92" fill="#a60226" stroke="#8e001c" stroke-width="0.5"/>
<circle cx="445.20" cy="490.40" r="1.1" fill="#000"/>
<line x1="474.50" y1="400.70" x2="474.50" y2="401.34" stroke="#2d4b83" stroke-width="0.9" />
<line x1="472.30" y1="400.70" x2="476.70" y2="400.70" stroke="#2d4b83" stroke-width="0.9" />
<rect x="468.60" y="401.34" width="11.80" height="107.06" fill="#2d4b83" stroke="#223d72" stroke-width="0.5"/>
<line x1="491.80" y1="493.29" x2="491.80" y2="495.19" stroke="#a60226" stroke-width="0.9" />
<line x1="489.60" y1="493.29" x2="494.00" y2="493.29" stroke="#a60226" stroke-width="0.9" />
<rect x="485.90" y="495.19" width="11.80" height="13.21" fill="#a60226" stroke="#8e001c" stroke-width="0.5"/>
<circle cx="491.80" cy="487.00" r="1.1" fill="#000"/>
<line x1="319.40" y1="400.40" x2="319.40" y2="509.00" stroke="#000" stroke-width="1.3" />
<line x1="318.80" y1="508.40" x2="506.20" y2="508.40" stroke="#000" stroke-width="1.3" />
<line x1="316.20" y1="508.40" x2="319.40" y2="508.40" stroke="#000" stroke-width="1.0" />
<text transform="translate(312.60,510.80) scale(1.05,1)" font-size="9.0" text-anchor="end" font-weight="normal" fill="#000" stroke="#000" stroke-width="0.12" >0</text>
<line x1="316.20" y1="495.70" x2="319.40" y2="495.70" stroke="#000" stroke-width="1.0" />
<text transform="translate(312.60,498.10) scale(1.05,1)" font-size="9.0" text-anchor="end" font-weight="normal" fill="#000" stroke="#000" stroke-width="0.12" >10</text>
<line x1="316.20" y1="483.00" x2="319.40" y2="483.00" stroke="#000" stroke-width="1.0" />
<text transform="translate(312.60,485.40) scale(1.05,1)" font-size="9.0" text-anchor="end" font-weight="normal" fill="#000" stroke="#000" stroke-width="0.12" >20</text>
<line x1="316.20" y1="470.30" x2="319.40" y2="470.30" stroke="#000" stroke-width="1.0" />
<text transform="translate(312.60,472.70) scale(1.05,1)" font-size="9.0" text-anchor="end" font-weight="normal" fill="#000" stroke="#000" stroke-width="0.12" >30</text>
<line x1="316.20" y1="457.60" x2="319.40" y2="457.60" stroke="#000" stroke-width="1.0" />
<text transform="translate(312.60,460.00) scale(1.05,1)" font-size="9.0" text-anchor="end" font-weight="normal" fill="#000" stroke="#000" stroke-width="0.12" >40</text>
<line x1="316.20" y1="444.90" x2="319.40" y2="444.90" stroke="#000" stroke-width="1.0" />
<text transform="translate(312.60,447.30) scale(1.05,1)" font-size="9.0" text-anchor="end" font-weight="normal" fill="#000" stroke="#000" stroke-width="0.12" >50</text>
<line x1="316.20" y1="432.20" x2="319.40" y2="432.20" stroke="#000" stroke-width="1.0" />
<text transform="translate(312.60,434.60) scale(1.05,1)" font-size="9.0" text-anchor="end" font-weight="normal" fill="#000" stroke="#000" stroke-width="0.12" >60</text>
<line x1="316.20" y1="419.50" x2="319.40" y2="419.50" stroke="#000" stroke-width="1.0" />
<text transform="translate(312.60,421.90) scale(1.05,1)" font-size="9.0" text-anchor="end" font-weight="normal" fill="#000" stroke="#000" stroke-width="0.12" >70</text>
<line x1="316.20" y1="406.80" x2="319.40" y2="406.80" stroke="#000" stroke-width="1.0" />
<text transform="translate(312.60,409.20) scale(1.05,1)" font-size="9.0" text-anchor="end" font-weight="normal" fill="#000" stroke="#000" stroke-width="0.12" >80</text>
<line x1="342.70" y1="508.40" x2="342.70" y2="511.80" stroke="#000" stroke-width="1.1" />
<text transform="translate(342.70,522.80)" font-size="9.0" text-anchor="middle" font-weight="normal" fill="#000" stroke="#000" stroke-width="0.12" >0.0</text>
<line x1="389.50" y1="508.40" x2="389.50" y2="511.80" stroke="#000" stroke-width="1.1" />
<text transform="translate(389.50,522.80)" font-size="9.0" text-anchor="middle" font-weight="normal" fill="#000" stroke="#000" stroke-width="0.12" >0.25</text>
<line x1="436.50" y1="508.40" x2="436.50" y2="511.80" stroke="#000" stroke-width="1.1" />
<text transform="translate(436.50,522.80)" font-size="9.0" text-anchor="middle" font-weight="normal" fill="#000" stroke="#000" stroke-width="0.12" >0.5</text>
<line x1="483.10" y1="508.40" x2="483.10" y2="511.80" stroke="#000" stroke-width="1.1" />
<text transform="translate(483.10,522.80)" font-size="9.0" text-anchor="middle" font-weight="normal" fill="#000" stroke="#000" stroke-width="0.12" >1.0</text>
<text transform="translate(412.00,539.20) scale(0.735,1)" font-size="10.8" text-anchor="middle" font-weight="normal" fill="#000" stroke="#000" stroke-width="0.35" >Belinostat (&#956;M)</text>
<rect x="322.90" y="402.40" width="6.70" height="7.60" fill="#2d4b83"/>
<text transform="translate(333.10,409.30)" font-size="8.3" text-anchor="start" font-weight="normal" fill="#000" stroke="#000" stroke-width="0.12" >HuT-78</text>
<rect x="322.90" y="415.50" width="6.70" height="7.60" fill="#a60226"/>
<text transform="translate(333.10,422.40)" font-size="8.3" text-anchor="start" font-weight="normal" fill="#000" stroke="#000" stroke-width="0.12" >HuT-78R</text>
<text transform="translate(291.50,455.00) rotate(-90) scale(0.70,1)" font-size="10.8" text-anchor="middle" stroke="#000" stroke-width="0.3">% sub-G<tspan font-size="6.6" dy="1.8">0</tspan><tspan dy="-1.8">/G</tspan><tspan font-size="6.6" dy="1.8">1</tspan><tspan dy="-1.8"> cells</tspan></text>
<text transform="translate(8.60,562.20) scale(0.96,1)" font-size="15.4" text-anchor="start" font-weight="bold" fill="#000" stroke="#000" stroke-width="0.45" >D</text>
<text transform="translate(66.60,577.10)" font-size="8.6" text-anchor="middle" font-weight="normal" fill="#000" stroke="#000" stroke-width="0.12" >KARPAS-299</text>
<text transform="translate(145.80,576.70)" font-size="8.6" text-anchor="middle" font-weight="normal" fill="#000" stroke="#000" stroke-width="0.12" >KARPAS-299R</text>
<text transform="translate(36.25,591.10)" font-size="8.6" text-anchor="middle" font-weight="normal" fill="#000" stroke="#000" stroke-width="0.12" >0</text>
<text transform="translate(63.75,591.10)" font-size="8.6" text-anchor="middle" font-weight="normal" fill="#000" stroke="#000" stroke-width="0.12" >5</text>
<text transform="translate(95.75,591.10)" font-size="8.6" text-anchor="middle" font-weight="normal" fill="#000" stroke="#000" stroke-width="0.12" >10</text>
<text transform="translate(123.80,591.10)" font-size="8.6" text-anchor="middle" font-weight="normal" fill="#000" stroke="#000" stroke-width="0.12" >0</text>
<text transform="translate(149.80,591.10)" font-size="8.6" text-anchor="middle" font-weight="normal" fill="#000" stroke="#000" stroke-width="0.12" >5</text>
<text transform="translate(176.30,591.10)" font-size="8.6" text-anchor="middle" font-weight="normal" fill="#000" stroke="#000" stroke-width="0.12" >10</text>
<text transform="translate(193.60,589.10) scale(0.94,1)" font-size="8.6" text-anchor="start" font-weight="normal" fill="#000" stroke="#000" stroke-width="0.12" >Belinostat (&#956;M)</text>
<text transform="translate(337.90,576.80)" font-size="8.6" text-anchor="middle" font-weight="normal" fill="#000" stroke="#000" stroke-width="0.12" >HuT-78</text>
<text transform="translate(414.00,576.80)" font-size="8.6" text-anchor="middle" font-weight="normal" fill="#000" stroke="#000" stroke-width="0.12" >HuT-78R</text>
<text transform="translate(302.20,589.30)" font-size="8.6" text-anchor="middle" font-weight="normal" fill="#000" stroke="#000" stroke-width="0.12" >0</text>
<text transform="translate(330.00,589.30)" font-size="8.6" text-anchor="middle" font-weight="normal" fill="#000" stroke="#000" stroke-width="0.12" >5</text>
<text transform="translate(361.70,589.30)" font-size="8.6" text-anchor="middle" font-weight="normal" fill="#000" stroke="#000" stroke-width="0.12" >10</text>
<text transform="translate(390.50,589.30)" font-size="8.6" text-anchor="middle" font-weight="normal" fill="#000" stroke="#000" stroke-width="0.12" >0</text>
<text transform="translate(415.70,589.30)" font-size="8.6" text-anchor="middle" font-weight="normal" fill="#000" stroke="#000" stroke-width="0.12" >5</text>
<text transform="translate(441.80,589.30)" font-size="8.6" text-anchor="middle" font-weight="normal" fill="#000" stroke="#000" stroke-width="0.12" >10</text>
<text transform="translate(457.20,589.20) scale(0.94,1)" font-size="8.6" text-anchor="start" font-weight="normal" fill="#000" stroke="#000" stroke-width="0.12" >Belinostat (&#956;M)</text>
<rect x="21.20" y="596.50" width="167.20" height="20.50" fill="#d9d9d9"/>
<rect x="21.20" y="622.90" width="167.20" height="16.60" fill="#d9d9d9"/>
<rect x="21.20" y="645.60" width="167.20" height="16.20" fill="#d9d9d9"/>
<rect x="21.20" y="667.60" width="167.20" height="17.20" fill="#d9d9d9"/>
<rect x="21.20" y="690.00" width="167.20" height="17.60" fill="#d9d9d9"/>
<rect x="290.20" y="596.00" width="163.40" height="18.90" fill="#d9d9d9"/>
<rect x="290.20" y="617.30" width="163.40" height="17.90" fill="#d9d9d9"/>
<rect x="290.20" y="640.90" width="163.40" height="19.70" fill="#d9d9d9"/>
<rect x="290.20" y="666.90" width="163.40" height="20.10" fill="#d9d9d9"/>
<rect x="290.20" y="692.00" width="163.40" height="15.60" fill="#d9d9d9"/>
<text transform="translate(193.60,608.70)" font-size="8.6" text-anchor="start" font-weight="normal" fill="#000" stroke="#000" stroke-width="0.12" >Ac-H2A</text>
<text transform="translate(193.60,633.80)" font-size="8.6" text-anchor="start" font-weight="normal" fill="#000" stroke="#000" stroke-width="0.12" >Ac-H2B</text>
<text transform="translate(193.60,656.00)" font-size="8.6" text-anchor="start" font-weight="normal" fill="#000" stroke="#000" stroke-width="0.12" >Ac-HH3</text>
<text transform="translate(193.60,678.50)" font-size="8.6" text-anchor="start" font-weight="normal" fill="#000" stroke="#000" stroke-width="0.12" >Ac-HH4</text>
<text transform="translate(193.60,703.10)" font-size="8.6" text-anchor="start" font-weight="normal" fill="#000" stroke="#000" stroke-width="0.12" >Actin</text>
<text transform="translate(457.20,608.80)" font-size="8.6" text-anchor="start" font-weight="normal" fill="#000" stroke="#000" stroke-width="0.12" >Ac-H2A</text>
<text transform="translate(457.20,634.20)" font-size="8.6" text-anchor="start" font-weight="normal" fill="#000" stroke="#000" stroke-width="0.12" >Ac-H2B</text>
<text transform="translate(457.20,655.90)" font-size="8.6" text-anchor="start" font-weight="normal" fill="#000" stroke="#000" stroke-width="0.12" >Ac-HH3</text>
<text transform="translate(457.20,678.00)" font-size="8.6" text-anchor="start" font-weight="normal" fill="#000" stroke="#000" stroke-width="0.12" >Ac-HH4</text>
<text transform="translate(457.20,702.70)" font-size="8.6" text-anchor="start" font-weight="normal" fill="#000" stroke="#000" stroke-width="0.12" >Actin</text>
<path d="M45.80,605.00 C46.24,603.12 48.00,602.50 51.30,602.50 L69.10,602.50 C72.40,602.50 74.16,603.12 74.60,605.00 C74.16,606.88 72.40,607.50 69.10,607.50 L51.30,607.50 C48.00,607.50 46.24,606.88 45.80,605.00Z" fill="#050505" fill-opacity="1.0" filter="url(#bl)"/>
<path d="M77.70,605.18 C78.14,602.78 79.90,601.98 83.20,601.98 L102.40,601.92 C105.70,601.92 107.46,602.72 107.90,605.12 C107.46,607.52 105.70,608.32 102.40,608.32 L83.20,608.38 C79.90,608.38 78.14,607.58 77.70,605.18Z" fill="#050505" fill-opacity="1.0" filter="url(#bl)"/>
<path d="M80.20,611.90 C80.64,610.70 82.40,610.30 85.70,610.30 L100.30,610.30 C103.60,610.30 105.36,610.70 105.80,611.90 C105.36,613.10 103.60,613.50 100.30,613.50 L85.70,613.50 C82.40,613.50 80.64,613.10 80.20,611.90Z" fill="#050505" fill-opacity="0.85" filter="url(#bl)"/>
<path d="M62.00,610.60 C62.21,610.04 63.03,609.85 64.57,609.85 L71.13,609.85 C72.67,609.85 73.49,610.04 73.70,610.60 C73.49,611.16 72.67,611.35 71.13,611.35 L64.57,611.35 C63.03,611.35 62.21,611.16 62.00,610.60Z" fill="#050505" fill-opacity="0.5" filter="url(#bl)"/>
<path d="M52.50,610.80 C52.54,610.42 52.72,610.30 53.05,610.30 L54.45,610.30 C54.78,610.30 54.96,610.42 55.00,610.80 C54.96,611.17 54.78,611.30 54.45,611.30 L53.05,611.30 C52.72,611.30 52.54,611.17 52.50,610.80Z" fill="#050505" fill-opacity="0.3" filter="url(#bl)"/>
<path d="M46.10,631.52 C46.54,629.64 48.30,629.02 51.60,629.02 L68.40,628.18 C71.70,628.18 73.46,628.81 73.90,630.68 C73.46,632.56 71.70,633.18 68.40,633.18 L51.60,634.02 C48.30,634.02 46.54,633.39 46.10,631.52Z" fill="#050505" fill-opacity="1.0" filter="url(#bl)"/>
<path d="M75.80,630.80 C76.24,629.07 78.00,628.50 81.30,628.50 L101.10,628.50 C104.40,628.50 106.16,629.07 106.60,630.80 C106.16,632.52 104.40,633.10 101.10,633.10 L81.30,633.10 C78.00,633.10 76.24,632.52 75.80,630.80Z" fill="#050505" fill-opacity="1.0" filter="url(#bl)"/>
<path d="M49.40,655.02 C49.84,653.22 51.60,652.62 54.90,652.62 L72.00,651.78 C75.30,651.78 77.06,652.38 77.50,654.18 C77.06,655.98 75.30,656.58 72.00,656.58 L54.90,657.42 C51.60,657.42 49.84,656.82 49.40,655.02Z" fill="#050505" fill-opacity="1.0" filter="url(#bl)"/>
<path d="M79.70,654.60 C80.14,652.80 81.90,652.20 85.20,652.20 L103.40,652.20 C106.70,652.20 108.46,652.80 108.90,654.60 C108.46,656.40 106.70,657.00 103.40,657.00 L85.20,657.00 C81.90,657.00 80.14,656.40 79.70,654.60Z" fill="#050505" fill-opacity="1.0" filter="url(#bl)"/>
<path d="M46.50,676.10 C46.94,674.64 48.70,674.15 52.00,674.15 L68.70,673.49 C72.00,673.49 73.76,673.98 74.20,675.44 C73.76,676.90 72.00,677.39 68.70,677.39 L52.00,678.05 C48.70,678.05 46.94,677.56 46.50,676.10Z" fill="#050505" fill-opacity="1.0" filter="url(#bl)"/>
<path d="M76.50,675.56 C76.94,674.10 78.70,673.61 82.00,673.61 L101.30,674.69 C104.60,674.69 106.36,675.18 106.80,676.64 C106.36,678.10 104.60,678.59 101.30,678.59 L82.00,677.51 C78.70,677.51 76.94,677.02 76.50,675.56Z" fill="#050505" fill-opacity="1.0" filter="url(#bl)"/>
<path d="M23.10,700.50 C23.47,698.81 24.96,698.25 27.74,698.25 L39.56,698.25 C42.34,698.25 43.83,698.81 44.20,700.50 C43.83,702.19 42.34,702.75 39.56,702.75 L27.74,702.75 C24.96,702.75 23.47,702.19 23.10,700.50Z" fill="#050505" fill-opacity="1.0" filter="url(#bl)"/>
<path d="M49.80,699.50 C50.20,697.89 51.82,697.35 54.86,697.35 L67.74,697.35 C70.78,697.35 72.40,697.89 72.80,699.50 C72.40,701.11 70.78,701.65 67.74,701.65 L54.86,701.65 C51.82,701.65 50.20,701.11 49.80,699.50Z" fill="#050505" fill-opacity="1.0" filter="url(#bl)"/>
<path d="M78.80,698.40 C79.24,696.79 81.00,696.25 84.30,696.25 L98.40,696.25 C101.70,696.25 103.46,696.79 103.90,698.40 C103.46,700.01 101.70,700.55 98.40,700.55 L84.30,700.55 C81.00,700.55 79.24,700.01 78.80,698.40Z" fill="#050505" fill-opacity="1.0" filter="url(#bl)"/>
<path d="M108.60,699.00 C108.99,697.05 110.55,696.40 113.48,696.40 L125.92,696.40 C128.85,696.40 130.41,697.05 130.80,699.00 C130.41,700.95 128.85,701.60 125.92,701.60 L113.48,701.60 C110.55,701.60 108.99,700.95 108.60,699.00Z" fill="#050505" fill-opacity="1.0" filter="url(#bl)"/>
<path d="M134.60,698.80 C135.02,697.19 136.68,696.65 139.79,696.65 L153.01,696.65 C156.12,696.65 157.78,697.19 158.20,698.80 C157.78,700.41 156.12,700.95 153.01,700.95 L139.79,700.95 C136.68,700.95 135.02,700.41 134.60,698.80Z" fill="#050505" fill-opacity="1.0" filter="url(#bl)"/>
<path d="M161.90,699.60 C162.34,697.73 164.08,697.10 167.36,697.10 L181.24,697.10 C184.52,697.10 186.26,697.73 186.70,699.60 C186.26,701.48 184.52,702.10 181.24,702.10 L167.36,702.10 C164.08,702.10 162.34,701.48 161.90,699.60Z" fill="#050505" fill-opacity="1.0" filter="url(#bl)"/>
<path d="M319.20,604.80 C319.55,603.90 320.97,603.60 323.62,603.60 L334.88,603.60 C337.53,603.60 338.95,603.90 339.30,604.80 C338.95,605.70 337.53,606.00 334.88,606.00 L323.62,606.00 C320.97,606.00 319.55,605.70 319.20,604.80Z" fill="#050505" fill-opacity="0.7" filter="url(#bl)"/>
<path d="M346.10,604.34 C346.48,603.37 348.02,603.04 350.90,603.04 L363.10,602.56 C365.98,602.56 367.52,602.88 367.90,603.86 C367.52,604.84 365.98,605.16 363.10,605.16 L350.90,605.64 C348.02,605.64 346.48,605.32 346.10,604.34Z" fill="#050505" fill-opacity="1.0" filter="url(#bl)"/>
<path d="M347.70,609.58 C348.02,608.98 349.30,608.78 351.70,608.78 L361.90,608.42 C364.30,608.42 365.58,608.62 365.90,609.22 C365.58,609.82 364.30,610.02 361.90,610.02 L351.70,610.38 C349.30,610.38 348.02,610.18 347.70,609.58Z" fill="#050505" fill-opacity="0.6" filter="url(#bl)"/>
<path d="M334.90,610.20 C334.96,609.83 335.20,609.70 335.65,609.70 L337.55,609.70 C338.00,609.70 338.24,609.83 338.30,610.20 C338.24,610.58 338.00,610.70 337.55,610.70 L335.65,610.70 C335.20,610.70 334.96,610.58 334.90,610.20Z" fill="#050505" fill-opacity="0.35" filter="url(#bl)"/>
<path d="M320.10,627.20 C320.50,625.93 322.08,625.50 325.05,625.50 L337.65,625.50 C340.62,625.50 342.20,625.93 342.60,627.20 C342.20,628.48 340.62,628.90 337.65,628.90 L325.05,628.90 C322.08,628.90 320.50,628.48 320.10,627.20Z" fill="#050505" fill-opacity="1.0" filter="url(#bl)"/>
<path d="M346.60,627.00 C347.01,625.80 348.65,625.40 351.73,625.40 L364.77,625.40 C367.85,625.40 369.49,625.80 369.90,627.00 C369.49,628.20 367.85,628.60 364.77,628.60 L351.73,628.60 C348.65,628.60 347.01,628.20 346.60,627.00Z" fill="#050505" fill-opacity="1.0" filter="url(#bl)"/>
<path d="M320.10,653.00 C320.48,651.80 322.00,651.40 324.85,651.40 L336.95,651.40 C339.80,651.40 341.32,651.80 341.70,653.00 C341.32,654.20 339.80,654.60 336.95,654.60 L324.85,654.60 C322.00,654.60 320.48,654.20 320.10,653.00Z" fill="#050505" fill-opacity="1.0" filter="url(#bl)"/>
<path d="M346.90,652.24 C347.29,651.04 348.85,650.64 351.78,650.64 L364.22,650.16 C367.15,650.16 368.71,650.56 369.10,651.76 C368.71,652.96 367.15,653.36 364.22,653.36 L351.78,653.84 C348.85,653.84 347.29,653.44 346.90,652.24Z" fill="#050505" fill-opacity="1.0" filter="url(#bl)"/>
<path d="M428.30,651.32 C428.65,650.82 430.07,650.66 432.72,650.66 L443.98,649.28 C446.63,649.28 448.05,649.58 448.40,650.48 C448.05,651.38 446.63,651.68 443.98,651.68 L432.72,651.98 C430.07,651.98 428.65,651.81 428.30,651.32Z" fill="#050505" fill-opacity="0.75" filter="url(#bl)"/>
<path d="M318.70,677.80 C319.08,676.49 320.60,676.05 323.45,676.05 L335.55,676.05 C338.40,676.05 339.92,676.49 340.30,677.80 C339.92,679.11 338.40,679.55 335.55,679.55 L323.45,679.55 C320.60,679.55 319.08,679.11 318.70,677.80Z" fill="#050505" fill-opacity="1.0" filter="url(#bl)"/>
<path d="M345.20,677.76 C345.59,676.49 347.13,676.06 350.02,676.06 L362.28,675.34 C365.17,675.34 366.71,675.76 367.10,677.04 C366.71,678.31 365.17,678.74 362.28,678.74 L350.02,679.46 C347.13,679.46 345.59,679.03 345.20,677.76Z" fill="#050505" fill-opacity="1.0" filter="url(#bl)"/>
<path d="M428.00,677.80 C428.37,677.05 429.85,676.80 432.62,676.80 L444.38,676.80 C447.15,676.80 448.63,677.05 449.00,677.80 C448.63,678.55 447.15,678.80 444.38,678.80 L432.62,678.80 C429.85,678.80 428.37,678.55 428.00,677.80Z" fill="#050505" fill-opacity="0.75" filter="url(#bl)"/>
<path d="M292.10,699.50 C292.47,698.00 293.97,697.50 296.76,697.50 L308.64,697.50 C311.43,697.50 312.93,698.00 313.30,699.50 C312.93,701.00 311.43,701.50 308.64,701.50 L296.76,701.50 C293.97,701.50 292.47,701.00 292.10,699.50Z" fill="#050505" fill-opacity="1.0" filter="url(#bl)"/>
<path d="M319.10,700.10 C319.50,698.41 321.11,697.85 324.12,697.85 L336.88,697.85 C339.89,697.85 341.50,698.41 341.90,700.10 C341.50,701.79 339.89,702.35 336.88,702.35 L324.12,702.35 C321.11,702.35 319.50,701.79 319.10,700.10Z" fill="#050505" fill-opacity="1.0" filter="url(#bl)"/>
<path d="M347.70,699.80 C348.09,698.30 349.64,697.80 352.54,697.80 L364.86,697.80 C367.76,697.80 369.31,698.30 369.70,699.80 C369.31,701.30 367.76,701.80 364.86,701.80 L352.54,701.80 C349.64,701.80 348.09,701.30 347.70,699.80Z" fill="#050505" fill-opacity="1.0" filter="url(#bl)"/>
<path d="M375.70,700.40 C376.07,698.71 377.57,698.15 380.39,698.15 L392.31,698.15 C395.13,698.15 396.63,698.71 397.00,700.40 C396.63,702.09 395.13,702.65 392.31,702.65 L380.39,702.65 C377.57,702.65 376.07,702.09 375.70,700.40Z" fill="#050505" fill-opacity="1.0" filter="url(#bl)"/>
<path d="M402.70,700.80 C403.07,699.15 404.57,698.60 407.36,698.60 L419.24,698.60 C422.03,698.60 423.53,699.15 423.90,700.80 C423.53,702.45 422.03,703.00 419.24,703.00 L407.36,703.00 C404.57,703.00 403.07,702.45 402.70,700.80Z" fill="#050505" fill-opacity="1.0" filter="url(#bl)"/>
<path d="M429.20,700.10 C429.60,698.38 431.21,697.80 434.22,697.80 L446.98,697.80 C449.99,697.80 451.60,698.38 452.00,700.10 C451.60,701.83 449.99,702.40 446.98,702.40 L434.22,702.40 C431.21,702.40 429.60,701.83 429.20,700.10Z" fill="#050505" fill-opacity="1.0" filter="url(#bl)"/>
</g>
<rect x="0.5" y="0.5" width="518.8" height="714.8" fill="none" stroke="#000" stroke-width="1.2"/>
</svg>
</body></html>
